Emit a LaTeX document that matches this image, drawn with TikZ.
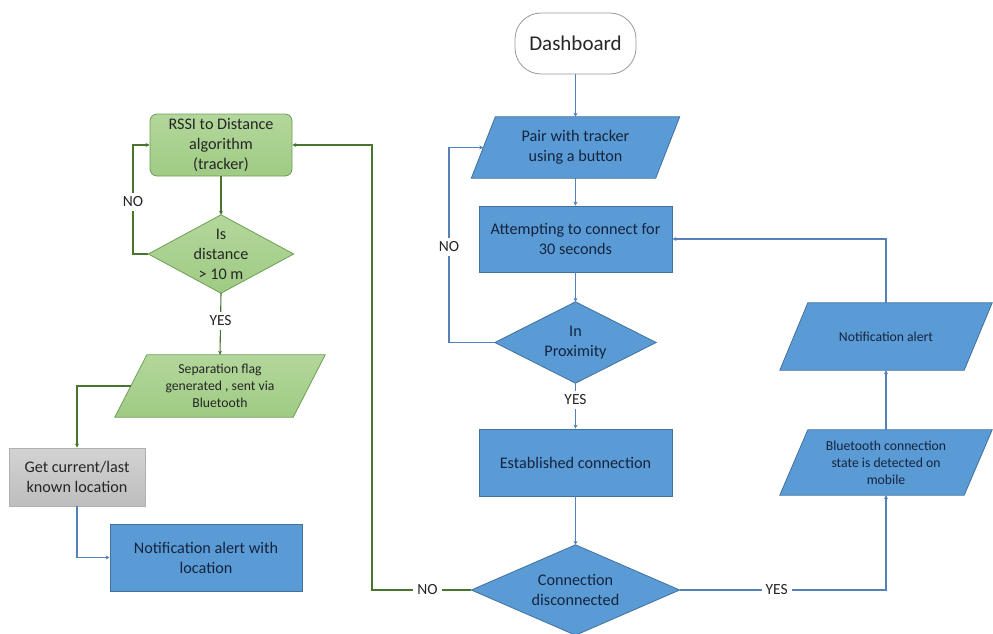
\documentclass[tikz,border=0pt]{standalone}
\usepackage{fontspec}
\setmainfont{Carlito}
\usetikzlibrary{arrows.meta,calc}
\pgfdeclarelayer{background}
\pgfsetlayers{background,main}

\definecolor{bfill}{HTML}{5B9BD5}
\definecolor{bdraw}{HTML}{41719C}
\definecolor{bline}{HTML}{5580B8}
\definecolor{btext}{HTML}{14243F}
\definecolor{gtop}{HTML}{B3D79B}
\definecolor{gbot}{HTML}{9FCB84}
\definecolor{gdraw}{HTML}{6E9E55}
\definecolor{gline}{HTML}{4A7530}
\definecolor{gytop}{HTML}{D3D3D3}
\definecolor{gybot}{HTML}{BDBDBD}
\definecolor{gydraw}{HTML}{B0B0B0}
\definecolor{dtext}{HTML}{262626}

% slanted input/output box around a plain node: #1 node, #2 half skew, #3 style
\newcommand{\slantbox}[3]{%
  \path[#3] ($(#1.south west)+(-#2,0)$) -- ($(#1.south east)+(-#2,0)$)
    -- ($(#1.north east)+(#2,0)$) -- ($(#1.north west)+(#2,0)$) -- cycle;}
% decision rhombus through the four side anchors of a plain node
\newcommand{\rhombus}[2]{%
  \path[#2] (#1.north) -- (#1.east) -- (#1.south) -- (#1.west) -- cycle;}

\tikzset{
  x=1pt, y=-1pt,
  base/.style={inner sep=0pt, align=center, font=\fontsize{16.2}{20}\selectfont},
  small/.style={font=\fontsize{13.7}{17}\selectfont},
  sz/.style 2 args={minimum width=#1, minimum height=#2},
  bluebox/.style={base, fill=bfill, draw=bdraw, line width=0.8pt, text=btext},
  bluetxt/.style={base, text=btext},
  greentxt/.style={base, text=dtext},
  greenbox/.style={base, draw=gdraw, line width=0.8pt, rounded corners=7pt,
    top color=gtop, bottom color=gbot, text=dtext},
  graybox/.style={base, draw=gydraw, line width=0.8pt,
    top color=gytop, bottom color=gybot, text=dtext},
  startbox/.style={base, draw=gray!80, line width=0.8pt, rounded corners=26pt,
    fill=white, text=dtext, font=\fontsize{21}{25}\selectfont},
  bshape/.style={fill=bfill, draw=bdraw, line width=0.8pt},
  gshape/.style={top color=gtop, bottom color=gbot, draw=gdraw, line width=0.8pt},
  barrow/.style={draw=bline, line width=1.1pt, -{Stealth[length=4pt,width=4pt]}},
  garrow/.style={draw=gline, line width=1.1pt, -{Stealth[length=4pt,width=4pt]}},
  lbl/.style={fill=white, inner sep=4pt, text=dtext, font=\fontsize{15.5}{18}\selectfont},
}

\begin{document}
\begin{tikzpicture}
\useasboundingbox (0,0) rectangle (993,634);

% ---------- tracker side ----------
\node[greenbox, sz={142}{62}] (rssi) at (221,145) {RSSI to Distance\\algorithm\\(tracker)};
\node[greentxt, sz={145}{78}] (dist) at (221,254) {Is\\distance\\> 10 m};
\node[greentxt, small, sz={178}{62}] (sep) at (220,386) {Separation flag\\generated , sent via\\Bluetooth};
\node[graybox, sz={136}{58}] (loc) at (77,477) {Get current/last\\known location};
\node[bluebox, sz={192}{67}] (alert) at (206,557.5) {Notification alert with\\location};

% ---------- mobile side ----------
\node[startbox, sz={121}{61}] (dash) at (575.5,43.5) {Dashboard};
\node[bluetxt, sz={184}{61}] (pair) at (575.5,147.5) {Pair with tracker\\using a button};
\node[bluebox, sz={193}{66}] (att) at (575.5,239) {Attempting to connect for\\30 seconds};
\node[bluetxt, sz={161}{81}] (prox) at (575.5,342.5) {In\\Proximity};
\node[bluebox, sz={193}{67}] (est) at (575.5,462.5) {Established connection};
\node[bluetxt, sz={208}{90}] (cdis) at (575.5,590) {Connection\\disconnected};
\node[bluetxt, small, sz={184}{65}] (bt) at (886,462.5) {Bluetooth connection\\state is detected on\\mobile};
\node[bluetxt, small, sz={184}{67}] (na) at (886,336.5) {Notification alert};

% shapes behind the texts
\begin{pgfonlayer}{background}
  \rhombus{dist}{gshape}
  \slantbox{sep}{16}{gshape}
  \slantbox{pair}{12}{bshape}
  \rhombus{prox}{bshape}
  \rhombus{cdis}{bshape}
  \slantbox{bt}{14}{bshape}
  \slantbox{na}{14}{bshape}
\end{pgfonlayer}

% ---------- connectors: tracker ----------
\coordinate (noL) at (133,202);
\draw[garrow] (rssi.south) -- (dist.north);
\draw[garrow] (dist.west) -| (noL) |- (rssi.west);
\node[lbl] (noLlbl) at (noL) {NO};
\draw[garrow] (dist.south) -- node[lbl, pos=0.45] {YES} (sep.north);
\draw[garrow] (sep.west) -| (loc.north);
\draw[barrow] (loc.south) |- (alert.west);

% ---------- connectors: mobile ----------
\coordinate (noR) at (449,247);
\draw[barrow] (dash.south) -- (pair.north);
\draw[barrow] (pair.south) -- (att.north);
\draw[barrow] (att.south) -- (prox.north);
\draw[barrow] (prox.west) -| (noR) |- (pair.west);
\node[lbl] (noRlbl) at (noR) {NO};
\draw[barrow] (prox.south) -- node[lbl, pos=0.37] {YES} (est.north);
\draw[barrow] (est.south) -- (cdis.north);
\draw[barrow] (cdis.east) -| node[lbl, pos=0.235] {YES} (bt.south);
\draw[barrow] (bt.north) -- (na.south);
\draw[barrow] (na.north) |- (att.east);

% separation detected while disconnected: back to the tracker loop
\coordinate (gc) at (372,590);
\draw[garrow] (cdis.west) -- node[lbl, pos=0.44] {NO} (gc) |- (rssi.east);
\end{tikzpicture}
\end{document}
